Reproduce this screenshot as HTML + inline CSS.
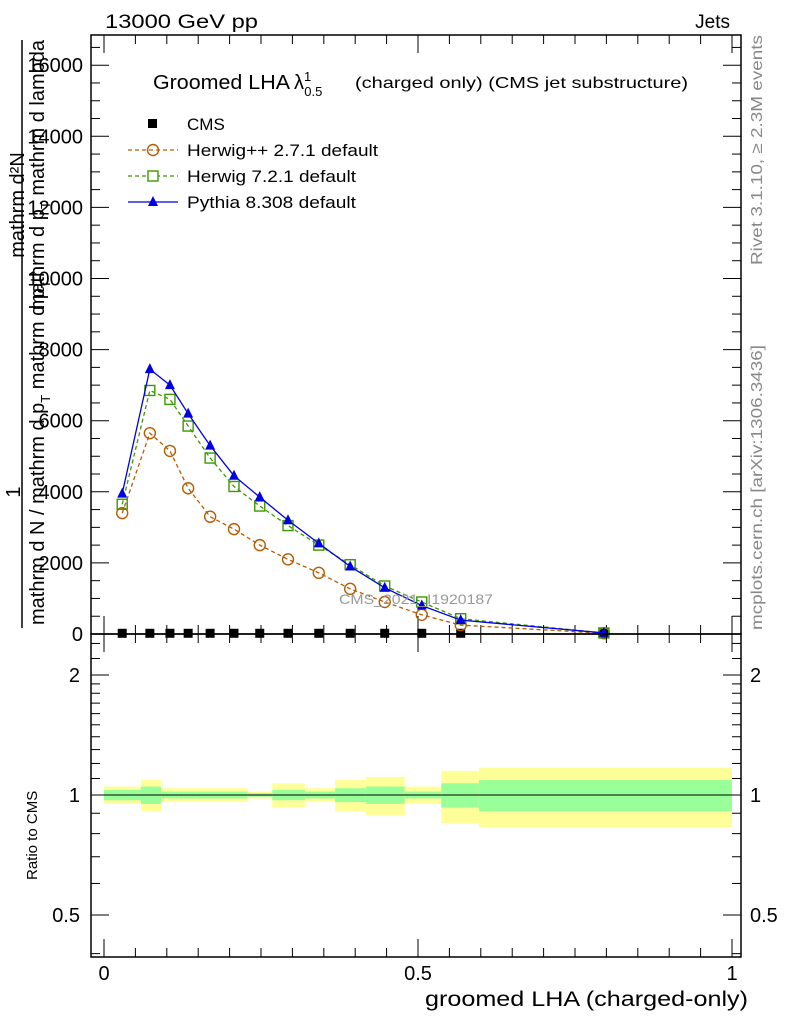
<!DOCTYPE html>
<html><head><meta charset="utf-8"><style>
html,body{margin:0;padding:0;background:#fff}
svg{display:block;font-family:"Liberation Sans",sans-serif}
</style></head><body>
<svg id="chart" width="786" height="1024" viewBox="0 0 786 1024" xmlns="http://www.w3.org/2000/svg">
<g id="ratio-bands"></g>
<g id="main"></g>
<g id="ratio"></g>
<rect x="91" y="35" width="650" height="599" fill="none" stroke="#000" stroke-width="1.5"/>
<rect x="91" y="634" width="650" height="323" fill="none" stroke="#000" stroke-width="1.5"/>
<text x="105" y="28" font-size="19" textLength="153" lengthAdjust="spacingAndGlyphs">13000 GeV pp</text>
<text x="730" y="28" font-size="19" text-anchor="end">Jets</text>
<text x="153" y="89" font-size="20" textLength="137" lengthAdjust="spacingAndGlyphs">Groomed LHA</text>
<text x="294" y="89" font-size="20">λ<tspan font-size="13" dy="-8">1</tspan><tspan font-size="13" dx="-7" dy="15">0.5</tspan></text>
<text x="355" y="88" font-size="16" textLength="333" lengthAdjust="spacingAndGlyphs">(charged only) (CMS jet substructure)</text>
<text transform="translate(762,265) rotate(-90)" font-size="16" fill="#888" textLength="230" lengthAdjust="spacingAndGlyphs">Rivet 3.1.10, ≥ 2.3M events</text>
<text transform="translate(762,630) rotate(-90)" font-size="16" fill="#888" textLength="285" lengthAdjust="spacingAndGlyphs">mcplots.cern.ch [arXiv:1306.3436]</text>
<text x="339" y="604" font-size="14" fill="#999" textLength="154" lengthAdjust="spacingAndGlyphs">CMS_2021_I1920187</text>
<g font-size="20">
<text transform="translate(20,492) rotate(-90)" text-anchor="middle">1</text>
<line x1="22" y1="40" x2="22" y2="628" stroke="#000" stroke-width="1.5"/>
<text transform="translate(44,625) rotate(-90)">mathrm d N / mathrm d p<tspan font-size="13" dy="6">T</tspan><tspan dy="-6"> mathrm d p</tspan><tspan font-size="13" dy="6">T</tspan></text>
<text transform="translate(24,205) rotate(-90)" text-anchor="middle">mathrm d²N</text>
<text transform="translate(44,40) rotate(-90)" text-anchor="end">mathrm d p<tspan font-size="13" dy="6">T</tspan><tspan dy="-6"> mathrm d lambda</tspan></text>
</g>
<text transform="translate(37,880) rotate(-90)" font-size="15">Ratio to CMS</text>
<text x="748" y="1006" font-size="21" text-anchor="end" textLength="323" lengthAdjust="spacingAndGlyphs">groomed LHA (charged-only)</text>
<g font-size="17">
<rect x="148" y="119" width="9" height="9" fill="#000"/>
<text x="187" y="130">CMS</text>
<line x1="128" y1="150" x2="178" y2="150" stroke="#b85c00" stroke-width="1.3" stroke-dasharray="4,3"/>
<circle cx="153" cy="150" r="5.5" fill="none" stroke="#b85c00" stroke-width="1.4"/>
<text x="187" y="156" textLength="191" lengthAdjust="spacingAndGlyphs">Herwig++ 2.7.1 default</text>
<line x1="128" y1="176" x2="178" y2="176" stroke="#3a9a00" stroke-width="1.3" stroke-dasharray="4,3"/>
<rect x="148" y="171" width="10" height="10" fill="#fff" stroke="#3a9a00" stroke-width="1.4"/>
<text x="187" y="182" textLength="169" lengthAdjust="spacingAndGlyphs">Herwig 7.2.1 default</text>
<line x1="128" y1="202" x2="178" y2="202" stroke="#0000e0" stroke-width="1.3"/>
<polygon points="153,196 158,206 148,206" fill="#0000e0"/>
<text x="187" y="208" textLength="169" lengthAdjust="spacingAndGlyphs">Pythia 8.308 default</text>
</g>
</svg>
<script>
const edges=[0,0.059,0.091,0.118,0.148,0.188,0.229,0.268,0.320,0.368,0.417,0.479,0.537,0.597,1.0];
const xVals=[0.029,0.073,0.105,0.134,0.169,0.207,0.248,0.293,0.342,0.392,0.447,0.506,0.568,0.796];
const cmsVals=[20,20,20,20,20,20,20,20,20,20,20,20,20,20];
const herwigPPVals=[3400,5650,5150,4100,3300,2950,2500,2100,1720,1270,900,540,250,20];
const herwig7Vals=[3650,6850,6600,5850,4950,4150,3600,3050,2500,1950,1350,900,430,30];
const pythiaVals=[3950,7450,7000,6200,5300,4450,3850,3200,2550,1900,1300,800,390,30];
const greenErr=[0.03,0.05,0.02,0.02,0.02,0.02,0.01,0.03,0.02,0.04,0.05,0.02,0.07,0.09];
const yellowErr=[0.05,0.09,0.04,0.04,0.04,0.04,0.02,0.07,0.04,0.09,0.11,0.05,0.15,0.17];
const yTicks=[0,2000,4000,6000,8000,10000,12000,14000,16000];
const xTicks=[0,0.5,1];
const rTicks=[0.5,1,2];
const NS="http://www.w3.org/2000/svg";
const X=v=>104+v*628;
const Y=v=>634-v*0.03555;
const R=v=>795-Math.log2(v)*120;
function mk(tag,attrs,parent){const e=document.createElementNS(NS,tag);for(const k in attrs)e.setAttribute(k,attrs[k]);parent.appendChild(e);return e;}
const main=document.getElementById('main'),ratio=document.getElementById('ratio'),bands=document.getElementById('ratio-bands');
for(let i=0;i<edges.length-1;i++){
 const x1=X(edges[i]),x2=X(edges[i+1]);
 const y=mk('rect',{x:x1,y:R(1+yellowErr[i]),width:x2-x1,height:R(1-yellowErr[i])-R(1+yellowErr[i]),fill:'#ffff99'},bands);
 
 
 const g=mk('rect',{x:x1,y:R(1+greenErr[i]),width:x2-x1,height:R(1-greenErr[i])-R(1+greenErr[i]),fill:'#99ff99'},bands);
 
 
}
const one=mk('line',{x1:X(0),x2:X(1),y1:R(1),y2:R(1),stroke:'#000','stroke-width':1},ratio);


for(let v=0;v<=16500;v+=500){const maj=v%2000===0;const y=Y(v);
 mk('line',{x1:91,x2:91+(maj?18:9),y1:y,y2:y,stroke:'#000'},main);
 mk('line',{x1:741,x2:741-(maj?18:9),y1:y,y2:y,stroke:'#000'},main);}
for(const t of yTicks){const tx=mk('text',{x:83,y:Y(t)+7,'font-size':20,'text-anchor':'end'},main);tx.textContent=t;
 
 }
for(let v=0;v<=1.0001;v+=0.05){const maj=Math.abs(v*10-Math.round(v*10))<1e-6&&Math.round(v*10)%5===0;const x=X(v);const L=maj?18:9;
 mk('line',{x1:x,x2:x,y1:634,y2:634-L,stroke:'#000'},main);
 mk('line',{x1:x,x2:x,y1:634,y2:634+L,stroke:'#000'},ratio);
 mk('line',{x1:x,x2:x,y1:957,y2:957-L,stroke:'#000'},ratio);
 mk('line',{x1:x,x2:x,y1:35,y2:35+L,stroke:'#000'},main);}
for(const t of xTicks){const tx=mk('text',{x:X(t),y:980,'font-size':20,'text-anchor':'middle'},ratio);tx.textContent=t;
 
 }
for(const v of [0.4,0.5,0.6,0.7,0.8,0.9,1,1.1,1.2,1.3,1.4,1.5,1.6,1.7,1.8,1.9,2,2.2,2.4]){const y=R(v);if(y<636||y>955)continue;const maj=rTicks.includes(v);
 mk('line',{x1:91,x2:91+(maj?18:9),y1:y,y2:y,stroke:'#000'},ratio);
 mk('line',{x1:741,x2:741-(maj?18:9),y1:y,y2:y,stroke:'#000'},ratio);}
for(const t of rTicks){
 const a=mk('text',{x:80,y:R(t)+7,'font-size':20,'text-anchor':'end'},ratio);a.textContent=t;
 
 
 const b=mk('text',{x:750,y:R(t)+7,'font-size':20},ratio);b.textContent=t;
 
 }
function series(vals,color,dash,marker,name){
 const pts=vals.map((v,i)=>X(xVals[i])+','+Y(v)).join(' ');
 const pl=mk('polyline',{points:pts,fill:'none',stroke:color,'stroke-width':1.3},main);
 if(dash)pl.setAttribute('stroke-dasharray','4,3');
 
 
 vals.forEach((v,i)=>{const x=X(xVals[i]),y=Y(v);let m;
  if(marker==='c')m=mk('circle',{cx:x,cy:y,r:5.5,fill:'none',stroke:color,'stroke-width':1.4},main);
  else if(marker==='s')m=mk('rect',{x:x-5,y:y-5,width:10,height:10,fill:'none',stroke:color,'stroke-width':1.4},main);
  else m=mk('polygon',{points:`${x},${y-6} ${x+5},${y+4} ${x-5},${y+4}`,fill:color},main);
  
  });
}
cmsVals.forEach((v,i)=>{const m=mk('rect',{x:X(xVals[i])-4.5,y:Y(v)-4.5,width:9,height:9,fill:'#000'},main);
 
 });
series(herwigPPVals,'#b85c00',true,'c','herwigpp');
series(herwig7Vals,'#3a9a00',true,'s','herwig7');
series(pythiaVals,'#0000e0',false,'t','pythia');
</script>
</body></html>
